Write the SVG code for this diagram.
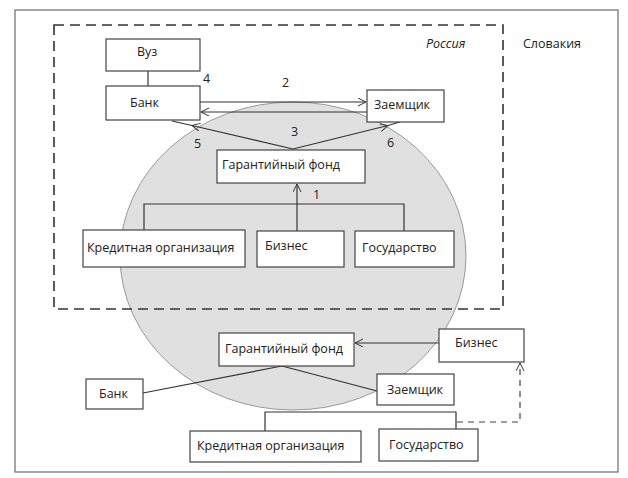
<svg xmlns="http://www.w3.org/2000/svg" width="628" height="478" viewBox="0 0 628 478">
<defs>
<marker id="arr" markerWidth="10" markerHeight="10" refX="8" refY="4" orient="auto" markerUnits="userSpaceOnUse">
<path d="M0,0 L8,4 L0,8" fill="none" stroke="#333" stroke-width="1"/>
</marker>
<style>
.box{fill:#fff;stroke:#444;stroke-width:1.2}
.ln{fill:none;stroke:#333;stroke-width:1.2}
.dash{fill:none;stroke:#444;stroke-width:1.2;stroke-dasharray:6,5}
text{font-family:"Open Sans","Liberation Sans",sans-serif;font-size:12.5px;fill:#222}
.num{font-size:12.5px}
</style>
</defs>
<rect x="0" y="0" width="628" height="478" fill="#fff"/>
<rect x="15" y="10" width="603" height="462" fill="none" stroke="#777" stroke-width="1.3"/>
<ellipse cx="293" cy="256" rx="173" ry="154" fill="#e0e0e0" stroke="#999" stroke-width="1"/>
<rect x="54" y="25" width="449" height="284" fill="none" stroke="#333" stroke-width="1.6" stroke-dasharray="10,6"/>
<text x="426" y="48" font-style="italic">Россия</text>
<text x="523" y="48">Словакия</text>
<g id="connectors">
<line class="ln" x1="148" y1="71" x2="148" y2="86"/>
<line class="ln" x1="200" y1="102" x2="366" y2="102" marker-end="url(#arr)"/>
<line class="ln" x1="367" y1="112" x2="201" y2="112" marker-end="url(#arr)"/>
<path class="ln" d="M293,149 L192,125.5 L172,121" marker-mid="url(#arr)"/>
<path class="ln" d="M293,149 L388,125.5 L400,122" marker-mid="url(#arr)"/>
<line class="ln" x1="297" y1="231" x2="297" y2="184" marker-end="url(#arr)"/>
<polyline class="ln" points="144,231 144,204 404,204 404,231"/>
<line class="ln" x1="282" y1="366" x2="143" y2="393"/>
<line class="ln" x1="282" y1="366" x2="377" y2="391"/>
<line class="ln" x1="439" y1="343" x2="355" y2="343" marker-end="url(#arr)"/>
<polyline class="ln" points="265,431 265,412 456,412 456,429"/>
<polyline class="dash" points="457,422 520,422 520,363" marker-end="url(#arr)"/>
</g>
<g id="n-vuz"><rect class="box" x="106" y="39" width="94" height="32"/><text x="137" y="56">Вуз</text></g>
<g id="n-bank"><rect class="box" x="106" y="86" width="94" height="34"/><text x="130" y="107">Банк</text></g>
<g id="n-borrower"><rect class="box" x="367" y="90" width="77" height="32"/><text x="374" y="109">Заемщик</text></g>
<g id="n-fund"><rect class="box" x="217" y="150" width="148" height="33"/><text x="222" y="169">Гарантийный фонд</text></g>
<g id="n-credit"><rect class="box" x="83" y="230" width="162" height="37"/><text x="87" y="252">Кредитная организация</text></g>
<g id="n-biz"><rect class="box" x="257" y="231" width="87" height="36"/><text x="265" y="250">Бизнес</text></g>
<g id="n-state"><rect class="box" x="355" y="231" width="99" height="36"/><text x="362" y="252">Государство</text></g>
<g id="labels">
<text class="num" x="203" y="83">4</text>
<text class="num" x="282" y="87">2</text>
<text class="num" x="291" y="136">3</text>
<text class="num" x="194" y="148">5</text>
<text class="num" x="387" y="147">6</text>
<text class="num" x="313" y="199">1</text>
</g>
<g id="n-fund2"><rect class="box" x="219" y="333" width="135" height="33"/><text x="225" y="353">Гарантийный фонд</text></g>
<g id="n-bank2"><rect class="box" x="86" y="379" width="57" height="30"/><text x="99" y="398">Банк</text></g>
<g id="n-borrower2"><rect class="box" x="377" y="374" width="77" height="31"/><text x="387" y="394">Заемщик</text></g>
<g id="n-biz2"><rect class="box" x="439" y="329" width="85" height="33"/><text x="455" y="347">Бизнес</text></g>
<g id="n-credit2"><rect class="box" x="190" y="431" width="171" height="31"/><text x="197" y="450">Кредитная организация</text></g>
<g id="n-state2"><rect class="box" x="379" y="429" width="99" height="32"/><text x="389" y="449">Государство</text></g>
</svg>
